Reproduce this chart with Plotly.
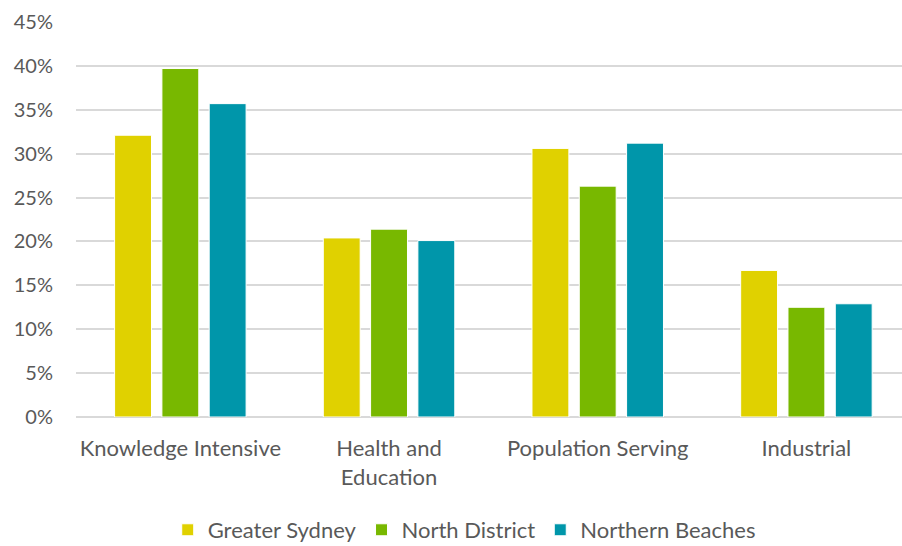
import plotly.graph_objects as go

categories = ["Knowledge Intensive", "Health and<br>Education", "Population Serving", "Industrial"]
greater_sydney = [32.1, 20.4, 30.6, 16.7]
north_district = [39.7, 21.4, 26.3, 12.5]
northern_beaches = [35.7, 20.1, 31.2, 12.9]
y_ticks = [0, 5, 10, 15, 20, 25, 30, 35, 40, 45]
y_tick_labels = [f"{v}%" for v in y_ticks]

series = [
    ("Greater Sydney", greater_sydney, "#E0D100"),
    ("North District", north_district, "#78B800"),
    ("Northern Beaches", northern_beaches, "#0096AA"),
]

fig = go.Figure()
for name, values, color in series:
    fig.add_trace(go.Bar(
        x=categories, y=values, name=name,
        marker=dict(color=color, line=dict(color="white", width=1)),
    ))

font_family = "Lato, 'Open Sans', sans-serif"
fig.update_layout(
    width=902, height=546,
    margin=dict(l=76, r=0, t=22, b=129, autoexpand=False),
    paper_bgcolor="white", plot_bgcolor="white",
    barmode="group", bargap=0.32, bargroupgap=0.22,
    font=dict(family=font_family, size=22, color="#595959"),
    showlegend=True,
    legend=dict(orientation="h", x=0.47, xanchor="center", y=-0.286, yanchor="middle",
                font=dict(size=22, color="#595959"), itemwidth=30,
                traceorder="normal"),
    xaxis=dict(showgrid=False, showline=False, ticks="", tickfont=dict(size=22),
               ticklabelstandoff=16, range=[-0.5, 3.458]),
    yaxis=dict(range=[0, 45], tickvals=y_ticks, ticktext=y_tick_labels, showgrid=True,
               gridcolor="#D9D9D9", gridwidth=1.5, zeroline=True, zerolinecolor="#D9D9D9",
               zerolinewidth=1.5, tickfont=dict(size=20), ticks="", ticklabelstandoff=22),
)

fig.write_html("out.html")
